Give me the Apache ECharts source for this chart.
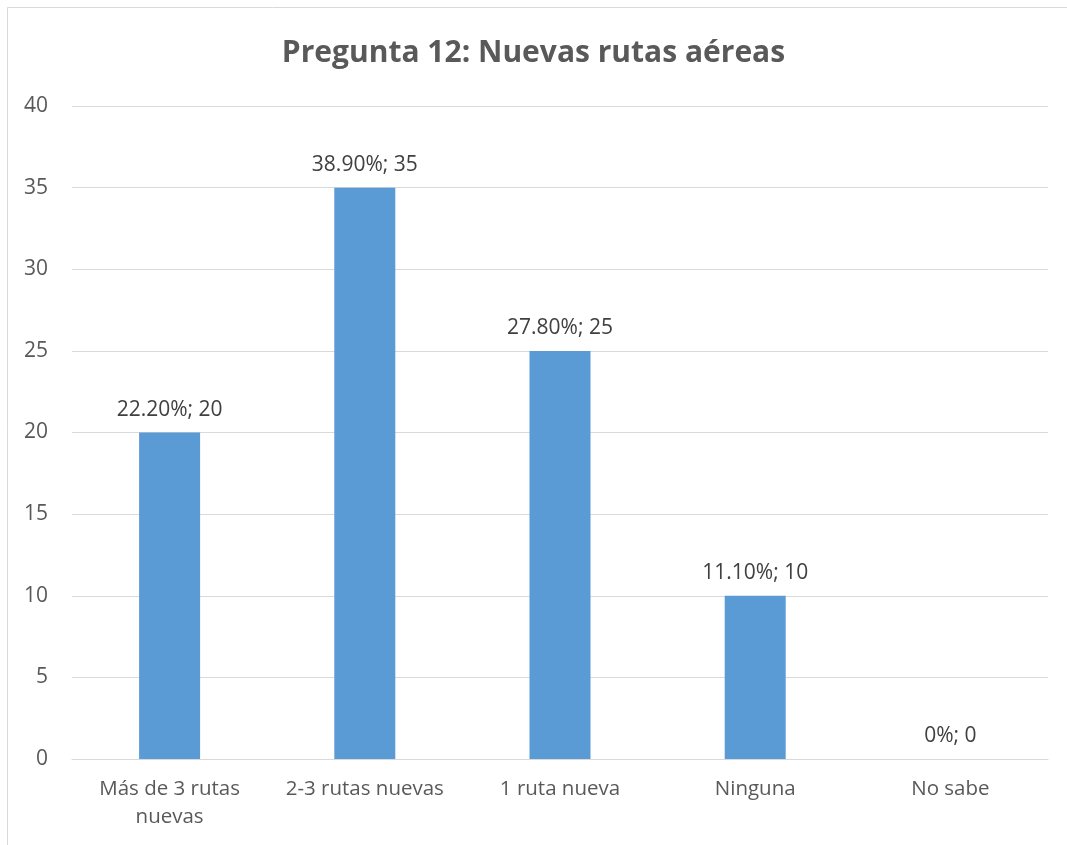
<!DOCTYPE html>
<html>
<head>
<meta charset="utf-8">
<script src="https://cdn.jsdelivr.net/npm/echarts@6/dist/echarts.min.js"></script>
<style>
html, body { margin: 0; padding: 0; background: #fff; }
#main { width: 1067px; height: 845px; }
</style>
</head>
<body>
<div id="main"></div>
<script>
var categories = ['Más de 3 rutas\nnuevas', '2-3 rutas nuevas', '1 ruta nueva', 'Ninguna', 'No sabe'];
var values = [20, 35, 25, 10, 0];
var percents = ['22.20%', '38.90%', '27.80%', '11.10%', '0%'];

var chart = echarts.init(document.getElementById('main'));
chart.setOption({
	animation: false,
	textStyle: { fontFamily: 'Open Sans' },
	title: {
		text: 'Pregunta 12: Nuevas rutas aéreas',
		left: 'center',
		top: 33,
		textStyle: { fontSize: 30, fontWeight: 'bold', color: '#595959', fontFamily: 'Open Sans' }
	},
	graphic: [{
		type: 'rect',
		shape: { x: 7.5, y: 7.5, width: 1100, height: 900 },
		style: { fill: 'none', stroke: '#d9d9d9', lineWidth: 1 },
		silent: true
	}],
	grid: { left: 72, right: 19, top: 106, bottom: 86, containLabel: false },
	xAxis: {
		type: 'category',
		data: categories,
		axisLine: { lineStyle: { color: '#d9d9d9', width: 1 } },
		axisTick: { show: false },
		axisLabel: { color: '#595959', fontSize: 20.5, margin: 16, lineHeight: 28, interval: 0 }
	},
	yAxis: {
		type: 'value',
		min: 0,
		max: 40,
		interval: 5,
		axisLine: { show: false },
		axisTick: { show: false },
		splitLine: { lineStyle: { color: '#d9d9d9', width: 1 } },
		axisLabel: { color: '#595959', fontSize: 21, margin: 24 }
	},
	series: [{
		type: 'bar',
		data: values,
		barWidth: '31.25%',
		itemStyle: { color: '#5b9bd5' },
		label: {
			show: true,
			position: 'top',
			distance: 12,
			color: '#404040',
			fontSize: 21,
			formatter: function(p) {
				return percents[p.dataIndex] + '; ' + p.value;
			}
		}
	}]
});
</script>
</body>
</html>
